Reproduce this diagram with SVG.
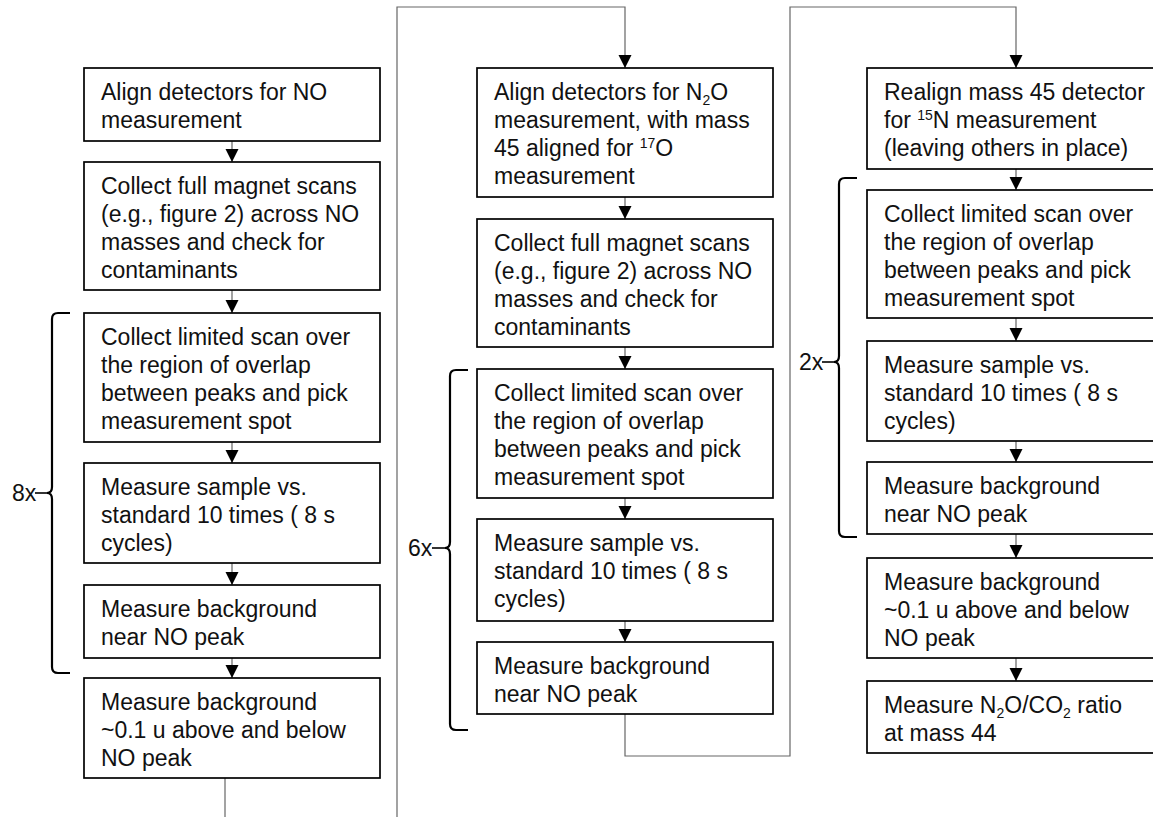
<svg xmlns="http://www.w3.org/2000/svg" width="1153" height="817" viewBox="0 0 1153 817">
<defs>
<marker id="ah" markerWidth="14" markerHeight="14" refX="13" refY="7" orient="auto" markerUnits="userSpaceOnUse">
<path d="M0,0.5 L13,7 L0,13.5 Z" fill="#000"/>
</marker>
<style>
.box{fill:#fff;stroke:#000;stroke-width:1.7}
.t{font-family:"Liberation Sans",Arial,Helvetica,sans-serif;font-size:23px;fill:#111}
.sm{font-size:14px}
.c{fill:none;stroke:#666;stroke-width:1.2}
.a{fill:none;stroke:#555;stroke-width:1.1;marker-end:url(#ah)}
.br{fill:none;stroke:#000;stroke-width:2.2}
.dash{stroke:#000;stroke-width:1.6}
</style>
</defs>
<rect width="1153" height="817" fill="#fff"/>

<g id="connectors">
<path class="c" d="M225,778 V817"/>
<path class="c" d="M397,817 V7 H625 V56"/>
<path class="a" d="M625,55 V68"/>
<path class="c" d="M625,714 V756 H790 V7 H1016 V56"/>
<path class="a" d="M1016,55 V68"/>
<!-- column 1 -->
<path class="a" d="M232,141 V162"/>
<path class="a" d="M232,290 V313"/>
<path class="a" d="M232,442 V463"/>
<path class="a" d="M232,563 V585"/>
<path class="a" d="M232,658 V678"/>
<!-- column 2 -->
<path class="a" d="M625,197 V219"/>
<path class="a" d="M625,347 V369"/>
<path class="a" d="M625,498 V519"/>
<path class="a" d="M625,621 V642"/>
<!-- column 3 -->
<path class="a" d="M1016,169 V190"/>
<path class="a" d="M1016,318 V341"/>
<path class="a" d="M1016,441 V462"/>
<path class="a" d="M1016,534 V558"/>
<path class="a" d="M1016,658 V681"/>
</g>

<g id="loop8x">
<path class="br" d="M70,313 H58 Q52,313 52,319 V487 Q52,493 47,493 Q52,493 52,499 V667 Q52,673 58,673 H70"/>
<line class="dash" x1="35" y1="493" x2="47" y2="493"/>
<text class="t" x="12" y="501">8x</text>
</g>
<g id="loop6x">
<path class="br" d="M468,370 H456 Q450,370 450,376 V542 Q450,548 445,548 Q450,548 450,554 V724 Q450,730 456,730 H468"/>
<line class="dash" x1="432" y1="548" x2="445" y2="548"/>
<text class="t" x="408" y="556">6x</text>
</g>
<g id="loop2x">
<path class="br" d="M857,178 H845 Q839,178 839,184 V356 Q839,362 834,362 Q839,362 839,368 V531 Q839,537 845,537 H857"/>
<line class="dash" x1="822" y1="362" x2="834" y2="362"/>
<text class="t" x="799" y="370">2x</text>
</g>

<!-- Column 1 -->
<g id="c1b1"><rect class="box" x="84" y="68" width="296" height="73"/>
<text class="t" x="101" y="100">Align detectors for NO</text>
<text class="t" x="101" y="128">measurement</text></g>
<g id="c1b2"><rect class="box" x="84" y="162" width="296" height="128"/>
<text class="t" x="101" y="194">Collect full magnet scans</text>
<text class="t" x="101" y="222">(e.g., figure 2) across NO</text>
<text class="t" x="101" y="250">masses and check for</text>
<text class="t" x="101" y="278">contaminants</text></g>
<g id="c1b3"><rect class="box" x="84" y="313" width="296" height="129"/>
<text class="t" x="101" y="345">Collect limited scan over</text>
<text class="t" x="101" y="373">the region of overlap</text>
<text class="t" x="101" y="401">between peaks and pick</text>
<text class="t" x="101" y="429">measurement spot</text></g>
<g id="c1b4"><rect class="box" x="84" y="463" width="296" height="100"/>
<text class="t" x="101" y="495">Measure sample vs.</text>
<text class="t" x="101" y="523">standard 10 times ( 8 s</text>
<text class="t" x="101" y="551">cycles)</text></g>
<g id="c1b5"><rect class="box" x="84" y="585" width="296" height="73"/>
<text class="t" x="101" y="617">Measure background</text>
<text class="t" x="101" y="645">near NO peak</text></g>
<g id="c1b6"><rect class="box" x="84" y="678" width="296" height="100"/>
<text class="t" x="101" y="710">Measure background</text>
<text class="t" x="101" y="738">~0.1 u above and below</text>
<text class="t" x="101" y="766">NO peak</text></g>

<!-- Column 2 -->
<g id="c2b1"><rect class="box" x="477" y="68" width="296" height="129"/>
<text class="t" x="494" y="100">Align detectors for N<tspan class="sm" dy="5">2</tspan><tspan dy="-5">O</tspan></text>
<text class="t" x="494" y="128">measurement, with mass</text>
<text class="t" x="494" y="156">45 aligned for <tspan class="sm" dy="-8">17</tspan><tspan dy="8">O</tspan></text>
<text class="t" x="494" y="184">measurement</text></g>
<g id="c2b2"><rect class="box" x="477" y="219" width="296" height="128"/>
<text class="t" x="494" y="251">Collect full magnet scans</text>
<text class="t" x="494" y="279">(e.g., figure 2) across NO</text>
<text class="t" x="494" y="307">masses and check for</text>
<text class="t" x="494" y="335">contaminants</text></g>
<g id="c2b3"><rect class="box" x="477" y="369" width="296" height="129"/>
<text class="t" x="494" y="401">Collect limited scan over</text>
<text class="t" x="494" y="429">the region of overlap</text>
<text class="t" x="494" y="457">between peaks and pick</text>
<text class="t" x="494" y="485">measurement spot</text></g>
<g id="c2b4"><rect class="box" x="477" y="519" width="296" height="102"/>
<text class="t" x="494" y="551">Measure sample vs.</text>
<text class="t" x="494" y="579">standard 10 times ( 8 s</text>
<text class="t" x="494" y="607">cycles)</text></g>
<g id="c2b5"><rect class="box" x="477" y="642" width="296" height="72"/>
<text class="t" x="494" y="674">Measure background</text>
<text class="t" x="494" y="702">near NO peak</text></g>

<!-- Column 3 -->
<g id="c3b1"><rect class="box" x="867" y="68" width="296" height="101"/>
<text class="t" x="884" y="100">Realign mass 45 detector</text>
<text class="t" x="884" y="128">for <tspan class="sm" dy="-8">15</tspan><tspan dy="8">N measurement</tspan></text>
<text class="t" x="884" y="156">(leaving others in place)</text></g>
<g id="c3b2"><rect class="box" x="867" y="190" width="296" height="128"/>
<text class="t" x="884" y="222">Collect limited scan over</text>
<text class="t" x="884" y="250">the region of overlap</text>
<text class="t" x="884" y="278">between peaks and pick</text>
<text class="t" x="884" y="306">measurement spot</text></g>
<g id="c3b3"><rect class="box" x="867" y="341" width="296" height="100"/>
<text class="t" x="884" y="373">Measure sample vs.</text>
<text class="t" x="884" y="401">standard 10 times ( 8 s</text>
<text class="t" x="884" y="429">cycles)</text></g>
<g id="c3b4"><rect class="box" x="867" y="462" width="296" height="72"/>
<text class="t" x="884" y="494">Measure background</text>
<text class="t" x="884" y="522">near NO peak</text></g>
<g id="c3b5"><rect class="box" x="867" y="558" width="296" height="100"/>
<text class="t" x="884" y="590">Measure background</text>
<text class="t" x="884" y="618">~0.1 u above and below</text>
<text class="t" x="884" y="646">NO peak</text></g>
<g id="c3b6"><rect class="box" x="867" y="681" width="296" height="72"/>
<text class="t" x="884" y="713">Measure N<tspan class="sm" dy="5">2</tspan><tspan dy="-5">O/CO</tspan><tspan class="sm" dy="5">2</tspan><tspan dy="-5"> ratio</tspan></text>
<text class="t" x="884" y="741">at mass 44</text></g>
</svg>
